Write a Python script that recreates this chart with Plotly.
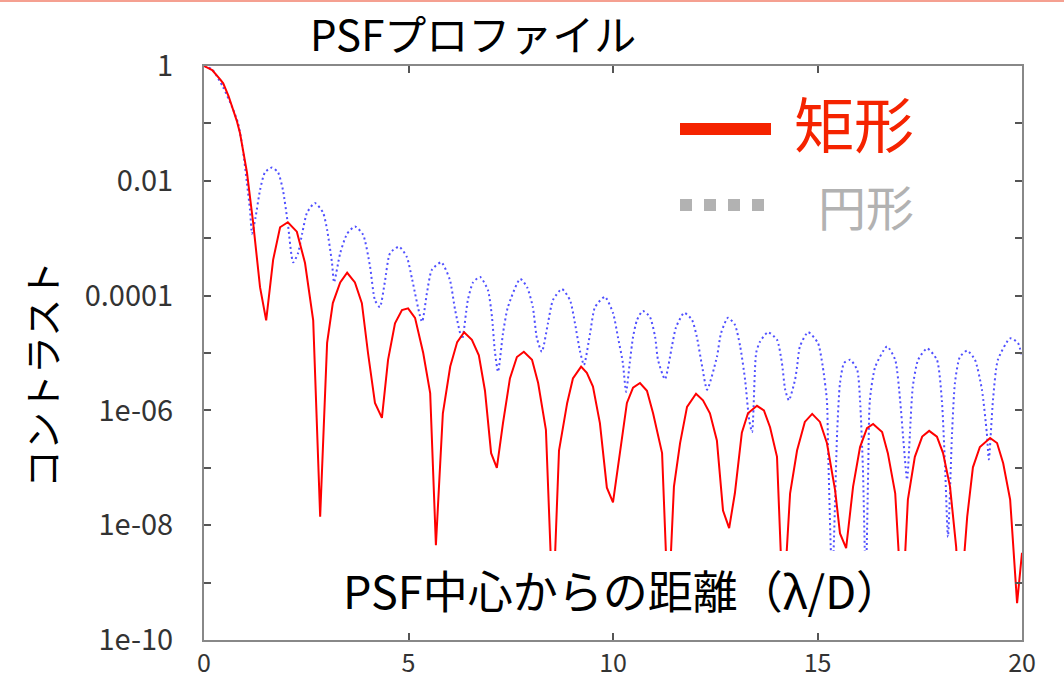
import plotly.graph_objects as go

# ---- data ----
rect_x = [0, 0.2, 0.4, 0.47, 0.6, 0.8, 0.88, 1.05, 1.2, 1.37, 1.52, 1.69, 1.86, 2.05, 2.27, 2.47,
          2.67, 2.84, 3.01, 3.15, 3.33, 3.50, 3.69, 3.86, 4.01, 4.18, 4.35, 4.50, 4.67, 4.84, 4.99,
          5.16, 5.36, 5.53, 5.67, 5.84, 6.02, 6.19, 6.36, 6.55, 6.72, 6.87, 7.02, 7.16, 7.31, 7.48,
          7.65, 7.82, 8.02, 8.17, 8.36, 8.53, 8.68, 8.88, 9.02, 9.22, 9.36, 9.51, 9.68, 9.85, 10.0,
          10.17, 10.34, 10.49, 10.66, 10.83, 10.98, 11.20, 11.35, 11.49, 11.64, 11.81, 12.03, 12.20,
          12.37, 12.54, 12.69, 12.84, 12.98, 13.15, 13.30, 13.52, 13.69, 13.84, 14.01, 14.16, 14.33,
          14.50, 14.69, 14.87, 15.06, 15.23, 15.43, 15.55, 15.70, 15.87, 16.04, 16.21, 16.36, 16.58,
          16.72, 16.90, 17.07, 17.21, 17.38, 17.56, 17.73, 17.92, 18.07, 18.24, 18.39, 18.48, 18.66,
          18.80, 18.97, 19.22, 19.39, 19.54, 19.71, 19.88, 20.0]
rect_y = [1, 0.85, 0.58, 0.50, 0.30, 0.112, 6.8e-2, 1.4e-2, 1.9e-3, 1.4e-4, 3.7e-5, 4.2e-4, 1.55e-3,
          1.9e-3, 1.3e-3, 3.7e-4, 3.7e-5, 1.4e-8, 1.5e-5, 7.4e-5, 1.7e-4, 2.5e-4, 1.7e-4, 7.4e-5,
          1.0e-5, 1.35e-6, 7.4e-7, 7.6e-6, 3.3e-5, 5.6e-5, 6.0e-5, 4.1e-5, 1.0e-5, 2.0e-6, 4.5e-9,
          8.9e-7, 5.8e-6, 1.55e-5, 2.3e-5, 1.7e-5, 9.1e-6, 2.2e-6, 1.8e-7, 1.0e-7, 6.0e-7, 3.6e-6,
          8.5e-6, 1.05e-5, 7.6e-6, 3.0e-6, 4.6e-7, 3e-10, 2.0e-7, 1.35e-6, 3.6e-6, 5.8e-6, 4.5e-6,
          2.6e-6, 6.0e-7, 4.5e-8, 2.5e-8, 2.0e-7, 1.35e-6, 2.5e-6, 3.0e-6, 2.2e-6, 8.9e-7, 1.8e-7,
          3e-10, 4.7e-8, 2.7e-7, 1.15e-6, 1.95e-6, 1.5e-6, 8.9e-7, 3.0e-7, 1.8e-8, 8.9e-9, 3.6e-8,
          4.1e-7, 8.9e-7, 1.2e-6, 1.0e-6, 5.1e-7, 1.55e-7, 3e-10, 3.6e-8, 2.0e-7, 6.3e-7, 8.7e-7,
          6.3e-7, 2.7e-7, 4.1e-8, 7.2e-9, 4.0e-9, 4.7e-8, 2.3e-7, 4.9e-7, 5.8e-7, 4.2e-7, 1.8e-7,
          3.6e-8, 3e-10, 2.8e-8, 1.55e-7, 3.5e-7, 4.4e-7, 3.5e-7, 1.8e-7, 4.7e-8, 4.2e-9, 3e-10,
          1.4e-8, 1.02e-7, 2.3e-7, 3.3e-7, 2.7e-7, 1.2e-7, 2.8e-8, 4.4e-10, 3.3e-9]

circ_x = [0, 0.2, 0.465, 0.685, 0.83, 0.95, 1.05, 1.125, 1.174, 1.26, 1.37, 1.49, 1.66, 1.81, 1.93,
          2.05, 2.18, 2.30, 2.40, 2.52, 2.71, 2.91, 3.01, 3.13, 3.18, 3.33, 3.50, 3.69, 3.89, 4.06,
          4.18, 4.30, 4.42, 4.55, 4.77, 4.96, 5.09, 5.33, 5.45, 5.57, 5.80, 6.01, 6.14, 6.31, 6.45,
          6.58, 6.75, 6.94, 7.04, 7.11, 7.19, 7.31, 7.43, 7.73, 7.90, 8.04, 8.14, 8.26, 8.41, 8.53,
          8.75, 8.95, 9.07, 9.19, 9.29, 9.44, 9.56, 9.80, 10.00, 10.12, 10.24, 10.32, 10.41, 10.49,
          10.59, 10.73, 10.90, 11.03, 11.10, 11.27, 11.44, 11.54, 11.74, 11.93, 12.05, 12.18, 12.30,
          12.54, 12.64, 12.81, 12.98, 13.11, 13.23, 13.33, 13.40, 13.50, 13.59, 13.79, 14.01, 14.13,
          14.21, 14.30, 14.45, 14.50, 14.57, 14.77, 15.01, 15.13, 15.23, 15.26, 15.36, 15.48, 15.55,
          15.65, 15.80, 15.97, 16.04, 16.11, 16.18, 16.24, 16.28, 16.41, 16.70, 16.90, 17.02, 17.10,
          17.19, 17.26, 17.33, 17.46, 17.68, 17.92, 18.04, 18.12, 18.19, 18.29, 18.36, 18.48, 18.66,
          18.85, 19.02, 19.14, 19.19, 19.29, 19.41, 19.71, 19.90, 20.0]
circ_y = [1, 0.87, 0.43, 0.195, 0.102, 0.035, 9.1e-3, 3.1e-3, 1.2e-3, 2.3e-3, 6.9e-3, 1.4e-2, 1.7e-2,
          1.4e-2, 6.9e-3, 1.8e-3, 3.8e-4, 5.5e-4, 1.2e-3, 2.8e-3, 4.1e-3, 2.8e-3, 1.4e-3, 3.7e-4,
          1.7e-4, 5.5e-4, 1.2e-3, 1.6e-3, 1.15e-3, 3.2e-4, 8.3e-5, 6.3e-5, 1.7e-4, 5.5e-4, 7.1e-4,
          4.7e-4, 1.9e-4, 3.5e-5, 1.1e-4, 2.8e-4, 3.8e-4, 1.9e-4, 5.6e-5, 1.75e-5, 8.3e-5, 1.7e-4,
          2.1e-4, 1.26e-4, 4.3e-5, 1.1e-5, 4.7e-6, 2.2e-5, 6.3e-5, 1.95e-4, 1.4e-4, 6.3e-5, 1.8e-5,
          1.05e-5, 3.3e-5, 8.3e-5, 1.3e-4, 8.3e-5, 3.3e-5, 1.1e-5, 6.2e-6, 2.2e-5, 6.3e-5, 9.5e-5,
          5.0e-5, 1.9e-5, 6.8e-6, 2.1e-6, 6.8e-6, 1.9e-5, 3.8e-5, 5.4e-5, 4.3e-5, 1.9e-5, 7.6e-6,
          3.5e-6, 1.3e-5, 2.8e-5, 5.0e-5, 3.8e-5, 1.9e-5, 5.8e-6, 2.3e-6, 8.5e-6, 2.2e-5, 4.1e-5,
          3.1e-5, 1.3e-5, 3.4e-6, 6.8e-7, 4.2e-7, 1.0e-5, 1.55e-5, 2.3e-5, 1.7e-5, 6.7e-6, 2.3e-6,
          1.5e-6, 3.4e-6, 5.7e-6, 1.3e-5, 2.3e-5, 1.5e-5, 5.7e-6, 1.5e-6, 2.0e-7, 1e-9, 4.1e-7,
          3.0e-6, 6.7e-6, 7.6e-6, 5.1e-6, 1.5e-6, 1.0e-7, 1e-9, 1.0e-7, 1.5e-6, 5.7e-6, 1.3e-5,
          7.6e-6, 1.5e-6, 3.0e-7, 6.2e-8, 4.0e-7, 2.6e-6, 7.6e-6, 1.2e-5, 7.6e-6, 1.5e-6, 1.0e-7,
          6.2e-9, 4.1e-7, 3.0e-6, 8.5e-6, 1.1e-5, 7.6e-6, 2.3e-6, 4.0e-7, 1.4e-7, 1.5e-6, 7.6e-6,
          1.8e-5, 1.5e-5, 8.5e-6]

x_ticks = [0, 5, 10, 15, 20]
y_ticks = [1, 1e-1, 1e-2, 1e-3, 1e-4, 1e-5, 1e-6, 1e-7, 1e-8, 1e-9, 1e-10]
y_ticktext = ["1", "", "0.01", "", "0.0001", "", "1e-06", "", "1e-08", "", "1e-10"]

title_text = "PSFプロファイル"
x_title = "PSF中心からの距離（λ/D）"
y_title = "コントラスト"
name_rect = "矩形"
name_circ = "円形"

FONT = "Noto Sans CJK JP"

fig = go.Figure()
fig.add_trace(go.Scatter(x=circ_x, y=circ_y, mode="lines", name=name_circ,
                         line=dict(color="rgb(80,80,255)", width=2, dash="2px,3px",
                                   shape="spline", smoothing=0.6)))
fig.add_trace(go.Scatter(x=rect_x, y=rect_y, mode="lines", name=name_rect,
                         line=dict(color="rgb(255,0,0)", width=2)))

# plot area: x 204..1022, y 66..640
W, H = 1064, 682
L, R, T, B = 204, 1022, 66, 640
def px(xp):
    return (xp - L) / (R - L)
def py(yp):
    return (B - yp) / (B - T)

shapes = [
    # white box behind the x-axis label (label sits inside the plot)
    dict(type="rect", xref="paper", yref="paper", x0=px(335), x1=px(1006), y0=py(631), y1=py(551),
         fillcolor="white", line=dict(width=0), layer="above"),
    # legend: red solid bar
    dict(type="line", xref="paper", yref="paper", x0=px(680), x1=px(771), y0=py(129), y1=py(129),
         line=dict(color="rgb(245,35,0)", width=12), layer="above"),
    # legend: gray dotted squares
    dict(type="line", xref="paper", yref="paper", x0=px(680), x1=px(766), y0=py(205), y1=py(205),
         line=dict(color="rgb(178,178,178)", width=12, dash="12px,12px"), layer="above"),
    # thin salmon line at the very top of the picture
    dict(type="line", xref="paper", yref="paper", x0=px(0), x1=px(W), y0=py(1), y1=py(1),
         line=dict(color="rgb(245,160,145)", width=2), layer="above"),
]

annotations = [
    dict(text=title_text, xref="paper", yref="paper", x=px(473), y=py(33), showarrow=False,
         xanchor="center", yanchor="middle", font=dict(family=FONT, size=42, color="black")),
    dict(text=x_title, xref="paper", yref="paper", x=px(622), y=py(589), showarrow=False,
         xanchor="center", yanchor="middle", font=dict(family=FONT, size=45, color="black")),
    dict(text=y_title, xref="paper", yref="paper", x=px(40), y=py(375), showarrow=False,
         textangle=-90, xanchor="center", yanchor="middle",
         font=dict(family=FONT, size=38, color="black")),
    dict(text=name_rect, xref="paper", yref="paper", x=px(854), y=py(121), showarrow=False,
         xanchor="center", yanchor="middle", font=dict(family=FONT, size=60, color="rgb(245,35,0)")),
    dict(text=name_circ, xref="paper", yref="paper", x=px(866), y=py(205), showarrow=False,
         xanchor="center", yanchor="middle", font=dict(family=FONT, size=48, color="rgb(178,178,178)")),
]

fig.update_layout(
    width=W, height=H,
    margin=dict(l=L, r=W - R, t=T, b=H - B, pad=0, autoexpand=False),
    paper_bgcolor="white", plot_bgcolor="white",
    showlegend=False,
    shapes=shapes, annotations=annotations,
    font=dict(family=FONT, color="#333"),
)
fig.update_xaxes(range=[0, 20], tickvals=x_ticks, ticks="inside", ticklen=7, tickwidth=1.5,
                 tickcolor="#555", showline=True, linecolor="#888", linewidth=2, mirror="ticks",
                 showgrid=False, zeroline=False, tickfont=dict(family=FONT, size=25, color="#333"),
                 ticklabelstandoff=0, automargin=False)
fig.update_yaxes(type="log", range=[-10, 0], tickvals=y_ticks, ticktext=y_ticktext, ticks="inside",
                 ticklen=7, tickwidth=1.5, tickcolor="#555", showline=True, linecolor="#888",
                 linewidth=2, mirror="ticks", showgrid=False, zeroline=False,
                 tickfont=dict(family=FONT, size=29, color="#333"), ticklabelstandoff=23,
                 automargin=False)

fig.write_html("out.html", config={"displayModeBar": False},
               post_script="document.body.style.margin='0px';")
